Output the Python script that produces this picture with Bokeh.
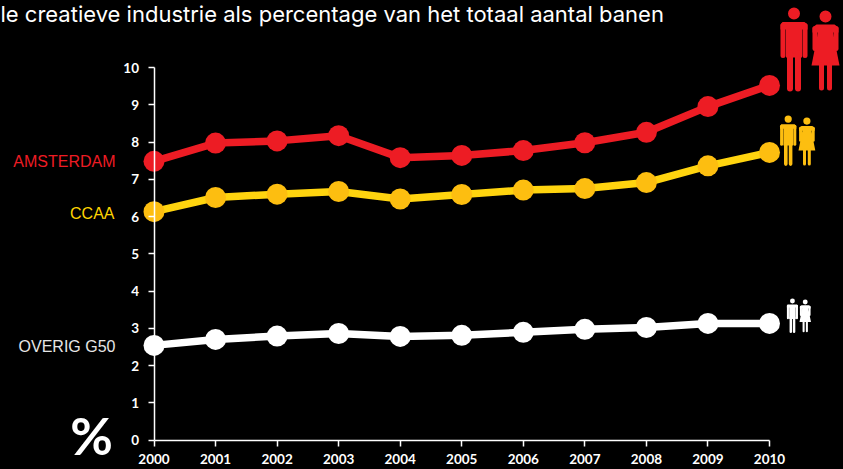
from bokeh.plotting import figure
from bokeh.models import LinearAxis, FixedTicker, Range1d, Label
from bokeh.embed import file_html
from bokeh.resources import INLINE

years = [2000, 2001, 2002, 2003, 2004, 2005, 2006, 2007, 2008, 2009, 2010]
amsterdam = [7.48, 7.97, 8.03, 8.17, 7.58, 7.64, 7.77, 7.98, 8.26, 8.95, 9.52]
ccaa = [6.13, 6.51, 6.60, 6.67, 6.47, 6.59, 6.71, 6.75, 6.91, 7.36, 7.72]
overig = [2.54, 2.70, 2.79, 2.86, 2.78, 2.81, 2.89, 2.97, 3.02, 3.13, 3.13]
y_ticks = [0, 1, 2, 3, 4, 5, 6, 7, 8, 9, 10]
title = "le creatieve industrie als percentage van het totaal aantal banen"

W, H = 843, 469
X0, XS, Y0, YS = 153.5, 61.55, 439.5, 37.25
fx = lambda px: 2000 + (px - X0) / XS
fy = lambda py: (Y0 - py) / YS

p = figure(width=W, height=H, output_backend="svg", toolbar_location=None,
           x_range=Range1d(fx(0), fx(W)), y_range=Range1d(fy(H), fy(0)),
           x_axis_type=None, y_axis_type=None, min_border=0,
           background_fill_color="black", border_fill_color="black",
           outline_line_color=None)
p.xgrid.visible = False
p.ygrid.visible = False

def style(ax):
    ax.axis_line_color = "white"
    ax.axis_line_width = 1.5
    ax.major_tick_line_color = "white"
    ax.major_tick_line_width = 1.5
    ax.major_tick_in = 0
    ax.major_tick_out = 6
    ax.minor_tick_line_color = None
    ax.major_label_text_color = "white"
    ax.major_label_text_font = "Lato"
    ax.major_label_text_font_style = "bold"
    ax.major_label_text_font_size = "13.5px"

xa = LinearAxis(ticker=FixedTicker(ticks=years), fixed_location=0, bounds=(2000, 2010))
xa.major_label_overrides = {y: str(y) for y in years}
style(xa)
xa.major_label_standoff = 8
p.add_layout(xa, "below")
ya = LinearAxis(ticker=FixedTicker(ticks=y_ticks), fixed_location=2000, bounds=(0, 10))
ya.major_label_overrides = {y: str(y) for y in y_ticks}
style(ya)
ya.major_label_standoff = 9
p.add_layout(ya, "left")

for vals, lc, mc in [(overig, "white", "white"),
                     (ccaa, "#FFD40F", "#FDBE10"),
                     (amsterdam, "#ED1C24", "#ED1C24")]:
    p.line(years, vals, line_color=lc, line_width=7.5)
    p.scatter(years, vals, size=21, fill_color=mc, line_color=None)

def person(ox, oy, s, color, female):
    X = lambda v: fx(ox + v * s)
    Y = lambda v: fy(oy + v * s)
    def limb(x, y1, y2, w):
        p.line([X(x), X(x)], [Y(y1), Y(y2)], line_color=color,
               line_width=w * s, line_cap="round")
    if not female:
        p.scatter([X(14.5)], [Y(6)], size=12 * s, fill_color=color, line_color=None)
        p.patch([X(v) for v in (3, 25, 28, 28, 22.5, 22.5, 6.5, 6.5, 1, 1)],
                [Y(v) for v in (14.5, 14.5, 17, 22, 22, 50, 50, 22, 22, 17)],
                fill_color=color, line_color=None)
        limb(3.5, 18, 48, 5)
        limb(25.5, 18, 48, 5)
        limb(10.5, 46, 81, 6)
        limb(18.5, 46, 81, 6)
    else:
        p.scatter([X(14)], [Y(6)], size=12 * s, fill_color=color, line_color=None)
        p.patch([X(v) for v in (5, 23, 27, 27, 21.5, 28, 0, 6.5, 1, 1)],
                [Y(v) for v in (14, 14, 17, 22, 22, 55, 55, 22, 22, 17)],
                fill_color=color, line_color=None)
        limb(3.5, 18, 38, 5)
        limb(24.5, 18, 38, 5)
        limb(10, 54, 77.5, 5)
        limb(18, 54, 77.5, 5)

person(779, 7, 1.0, "#ED1C24", False)
person(811, 10, 1.0, "#ED1C24", True)
person(779, 115, 0.6, "#FDBE10", False)
person(798, 117, 0.6, "#FDBE10", True)
person(786, 298, 0.41, "white", False)
person(799, 299, 0.41, "white", True)

def lab(text, px, py, color, font, size, align="left", style="normal"):
    p.add_layout(Label(x=fx(px), y=fy(py), text=text, text_color=color, text_font=font,
                       text_font_size=size, text_align=align, text_baseline="middle",
                       text_font_style=style))

lab(title, 0, 13, "white", "Inter", "22px")
lab("AMSTERDAM", 115, 160.5, "#ED1C24", "Liberation Sans", "16px", "right")
lab("CCAA", 114, 212.5, "#FFD500", "Liberation Sans", "16px", "right")
lab("OVERIG G50", 115, 345.5, "#E6E6E6", "Liberation Sans", "16px", "right")
lab("%", 91, 434, "white", "Lato", "52px", "center", "bold")

html = file_html(p, INLINE)
html = html.replace("<head>", "<head><style>html,body{margin:0;background:#000;overflow:hidden}</style>", 1)
open("out.html", "w").write(html)
